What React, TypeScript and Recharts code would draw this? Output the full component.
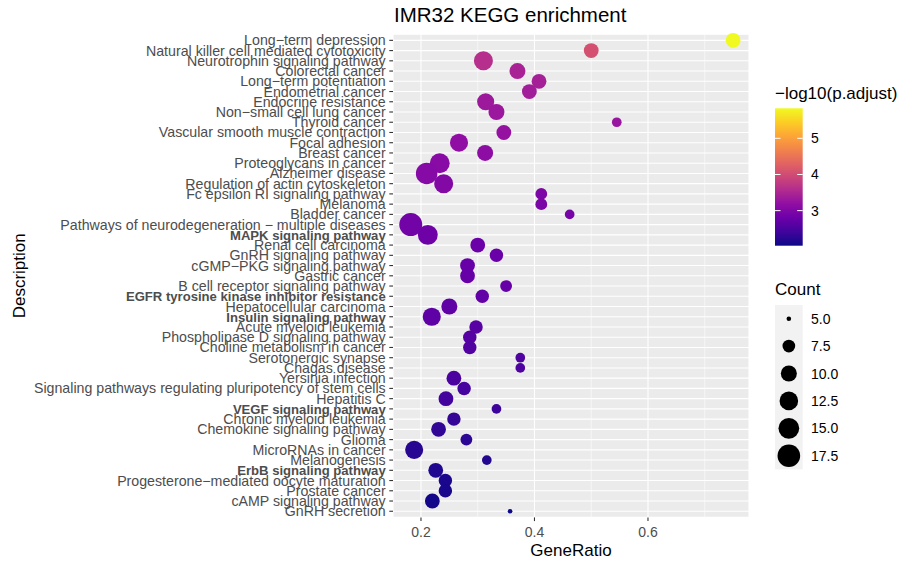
import React from 'react';
import { ScatterChart, Scatter, XAxis, YAxis, CartesianGrid } from 'recharts';

// KEGG pathways, top row first
const pathways = [
  'Long−term depression',
  'Natural killer cell mediated cytotoxicity',
  'Neurotrophin signaling pathway',
  'Colorectal cancer',
  'Long−term potentiation',
  'Endometrial cancer',
  'Endocrine resistance',
  'Non−small cell lung cancer',
  'Thyroid cancer',
  'Vascular smooth muscle contraction',
  'Focal adhesion',
  'Breast cancer',
  'Proteoglycans in cancer',
  'Alzheimer disease',
  'Regulation of actin cytoskeleton',
  'Fc epsilon RI signaling pathway',
  'Melanoma',
  'Bladder cancer',
  'Pathways of neurodegeneration − multiple diseases',
  'MAPK signaling pathway',
  'Renal cell carcinoma',
  'GnRH signaling pathway',
  'cGMP−PKG signaling pathway',
  'Gastric cancer',
  'B cell receptor signaling pathway',
  'EGFR tyrosine kinase inhibitor resistance',
  'Hepatocellular carcinoma',
  'Insulin signaling pathway',
  'Acute myeloid leukemia',
  'Phospholipase D signaling pathway',
  'Choline metabolism in cancer',
  'Serotonergic synapse',
  'Chagas disease',
  'Yersinia infection',
  'Signaling pathways regulating pluripotency of stem cells',
  'Hepatitis C',
  'VEGF signaling pathway',
  'Chronic myeloid leukemia',
  'Chemokine signaling pathway',
  'Glioma',
  'MicroRNAs in cancer',
  'Melanogenesis',
  'ErbB signaling pathway',
  'Progesterone−mediated oocyte maturation',
  'Prostate cancer',
  'cAMP signaling pathway',
  'GnRH secretion',
];

const geneRatio = [
  0.75, 0.5, 0.31, 0.37, 0.408, 0.391, 0.314, 0.333, 0.545, 0.346,
  0.267, 0.313, 0.233, 0.21, 0.24, 0.412, 0.412, 0.462, 0.182, 0.212,
  0.3, 0.333, 0.282, 0.282, 0.35, 0.308, 0.25, 0.219, 0.297, 0.286,
  0.286, 0.375, 0.375, 0.258, 0.276, 0.244, 0.333, 0.258, 0.231, 0.28,
  0.188, 0.316, 0.226, 0.243, 0.243, 0.22, 0.357,
];

const counts = [
  9, 9, 13, 10, 9, 9, 11, 10, 6, 9,
  12, 10, 14, 16, 13, 7, 7, 6, 18, 14,
  9, 8, 9, 9, 7, 8, 10, 12, 8, 8,
  8, 6, 6, 9, 8, 9, 6, 8, 9, 7,
  12, 6, 9, 8, 8, 9, 5,
];

const negLogPadj = [
  5.83, 4.05, 3.62, 3.45, 3.42, 3.38, 3.33, 3.3, 3.27, 3.24,
  3.18, 3.15, 3.1, 3.08, 3.05, 2.98, 2.96, 2.92, 2.87, 2.84,
  2.8, 2.78, 2.76, 2.75, 2.74, 2.72, 2.7, 2.68, 2.62, 2.6,
  2.58, 2.55, 2.53, 2.5, 2.47, 2.42, 2.38, 2.32, 2.29, 2.26,
  2.22, 2.19, 2.16, 2.13, 2.11, 2.07, 2.03,
];

const boldPathways = [
  'MAPK signaling pathway',
  'EGFR tyrosine kinase inhibitor resistance',
  'Insulin signaling pathway',
  'VEGF signaling pathway',
  'ErbB signaling pathway',
];

const xTicks = [0.2, 0.4, 0.6];
const xMinorTicks = [0.3, 0.5, 0.7];
const colorTicks = [3, 4, 5];
const countBreaks = [5, 7.5, 10, 12.5, 15, 17.5];

const X_DOMAIN = [0.1507, 0.778];
const COLOR_DOMAIN = [2.03, 5.83];
const COUNT_DOMAIN = [5, 18];

const plasma = [
  '#0d0887', '#41049d', '#6a00a8', '#8f0da4', '#b12a90', '#cc4778',
  '#e16462', '#f2844b', '#fca636', '#fcce25', '#f0f921',
];

const hexToRgb = (h: string) => [1, 3, 5].map((i) => parseInt(h.slice(i, i + 2), 16));

const plasmaColor = (value: number) => {
  const t = Math.min(1, Math.max(0, (value - COLOR_DOMAIN[0]) / (COLOR_DOMAIN[1] - COLOR_DOMAIN[0])));
  const pos = t * (plasma.length - 1);
  const i = Math.min(plasma.length - 2, Math.floor(pos));
  const f = pos - i;
  const a = hexToRgb(plasma[i]);
  const b = hexToRgb(plasma[i + 1]);
  const c = a.map((v, k) => Math.round(v + (b[k] - v) * f));
  return `rgb(${c[0]},${c[1]},${c[2]})`;
};

// area-style size scale: radius grows with sqrt of the count
const R_MIN = 2.3;
const R_MAX = 11.5;
const radiusOf = (count: number) => {
  const t = Math.max(0, (count - COUNT_DOMAIN[0]) / (COUNT_DOMAIN[1] - COUNT_DOMAIN[0]));
  return R_MIN + (R_MAX - R_MIN) * Math.sqrt(t);
};

const rows = pathways.map((name, i) => ({
  idx: i,
  name,
  ratio: geneRatio[i],
  count: counts[i],
  padj: negLogPadj[i],
}));

const FONT = '"Liberation Sans", Arial, Helvetica, sans-serif';

const PathwayTick = (props: any) => {
  const { x, y, payload } = props;
  const name = pathways[payload.value];
  const bold = boldPathways.includes(name);
  return (
    <text
      x={x}
      y={y}
      dy={5}
      textAnchor="end"
      fontSize={bold ? 13.1 : 14.2}
      fill="#4d4d4d"
      fontWeight={bold ? 'bold' : 'normal'}
    >
      {name}
    </text>
  );
};

const Dot = (props: any) => {
  const { cx, cy, payload } = props;
  return <circle cx={cx} cy={cy} r={radiusOf(payload.count)} fill={plasmaColor(payload.padj)} />;
};

// colour bar geometry
const BAR_X = 775;
const BAR_TOP = 108.3;
const BAR_H = 137.4;
const BAR_W = 27.7;
const barY = (v: number) => BAR_TOP + BAR_H - ((v - COLOR_DOMAIN[0]) / (COLOR_DOMAIN[1] - COLOR_DOMAIN[0])) * BAR_H;

const KEY_TOP = 305;
const KEY_H = 27.4;

export default function App() {
  return (
    <div style={{ position: 'absolute', left: 0, top: 0, width: 902, height: 562, background: '#fff', fontFamily: FONT }}>
      <ScatterChart width={902} height={562} margin={{ top: 34.2, right: 153, bottom: 0, left: 0 }}>
        <CartesianGrid stroke="#ffffff" strokeWidth={1.1} fill="#ebebeb" />
        <CartesianGrid stroke="#ffffff" strokeWidth={0.55} horizontal={false} verticalValues={xMinorTicks} />
        <XAxis
          type="number"
          dataKey="ratio"
          domain={X_DOMAIN}
          allowDataOverflow
          ticks={xTicks}
          interval={0}
          height={44.6}
          axisLine={false}
          tickSize={3.7}
          tickMargin={5.6}
          tickLine={{ stroke: '#333333', strokeWidth: 1.1 }}
          tick={{ fontSize: 14, fill: '#4d4d4d' }}
        />
        <YAxis
          type="number"
          dataKey="idx"
          domain={[-0.6, pathways.length - 0.4]}
          reversed
          ticks={rows.map((r) => r.idx)}
          interval={0}
          width={393}
          axisLine={false}
          tickSize={3.7}
          tickMargin={3.6}
          tickLine={{ stroke: '#333333', strokeWidth: 1.1 }}
          tick={<PathwayTick />}
        />
        <Scatter data={rows} shape={<Dot />} isAnimationActive={false} />
      </ScatterChart>

      <svg width={902} height={562} style={{ position: 'absolute', left: 0, top: 0, pointerEvents: 'none' }}>
        <defs>
          <linearGradient id="plasmaBar" x1="0" y1="1" x2="0" y2="0">
            {plasma.map((c, i) => (
              <stop key={c} offset={i / (plasma.length - 1)} stopColor={c} />
            ))}
          </linearGradient>
        </defs>

        <text x={394} y={22} fontSize={20.5} fill="#000">IMR32 KEGG enrichment</text>
        <text x={571} y={555.5} fontSize={17} fill="#000" textAnchor="middle">GeneRatio</text>
        <text x={25} y={275.8} fontSize={17} fill="#000" textAnchor="middle" transform="rotate(-90 25 275.8)">
          Description
        </text>

        {/* colour legend */}
        <text x={775} y={98.5} fontSize={17} fill="#000">−log10(p.adjust)</text>
        <rect x={BAR_X} y={BAR_TOP} width={BAR_W} height={BAR_H} fill="url(#plasmaBar)" />
        {colorTicks.map((v) => (
          <g key={v}>
            <line x1={BAR_X} x2={BAR_X + 5.5} y1={barY(v)} y2={barY(v)} stroke="#fff" strokeWidth={1} />
            <line x1={BAR_X + BAR_W - 5.5} x2={BAR_X + BAR_W} y1={barY(v)} y2={barY(v)} stroke="#fff" strokeWidth={1} />
            <text x={811} y={barY(v) + 5} fontSize={14} fill="#000">{v}</text>
          </g>
        ))}

        {/* size legend */}
        <text x={775} y={295} fontSize={17} fill="#000">Count</text>
        <rect x={BAR_X} y={KEY_TOP} width={BAR_W} height={KEY_H * countBreaks.length} fill="#f2f2f2" />
        {countBreaks.map((c, i) => {
          const cy = KEY_TOP + KEY_H * (i + 0.5);
          return (
            <g key={c}>
              <circle cx={BAR_X + BAR_W / 2} cy={cy} r={radiusOf(c)} fill="#000" />
              <text x={811} y={cy + 5} fontSize={14} fill="#000">{c.toFixed(1)}</text>
            </g>
          );
        })}
      </svg>
    </div>
  );
}
